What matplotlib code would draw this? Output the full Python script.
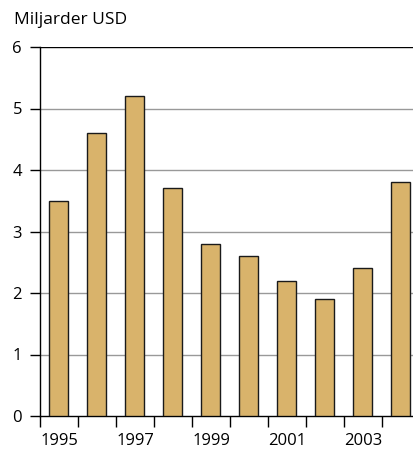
import matplotlib.pyplot as plt
import numpy as np

years = [1995, 1996, 1997, 1998, 1999, 2000, 2001, 2002, 2003, 2004]
values = [3.5, 4.6, 5.2, 3.7, 2.8, 2.6, 2.2, 1.9, 2.4, 3.8]
label_years = [1995, 1997, 1999, 2001, 2003]

plt.rcParams['font.family'] = ['Open Sans', 'DejaVu Sans']

fig = plt.figure(figsize=(4.14, 4.5), dpi=100)
ax = fig.add_axes([40 / 414, 34 / 450, 380 / 414, 369 / 450])

ax.bar(years, values, width=0.5, color='#d9b36b', edgecolor='#1a1a1a', linewidth=1, zorder=3)

ax.set_xlim(1994.5, 2004.5)
ax.set_ylim(0, 6)
ax.set_yticks(range(0, 7))
for y in range(1, 6):
    ax.axhline(y, color='#999999', linewidth=1, zorder=1)
ax.axhline(6, color='black', linewidth=1, zorder=1)

ax.set_xticks(label_years)
ax.tick_params(axis='x', length=0, labelsize=12, pad=12)
ax.set_xticks(np.arange(1994.5, 2005, 1), minor=True)
ax.tick_params(axis='x', which='minor', length=8, width=1, direction='out')
ax.tick_params(axis='y', length=7, width=1, labelsize=12, pad=6)

for s in ['top', 'right']:
    ax.spines[s].set_visible(False)
ax.spines['left'].set_linewidth(1)
ax.spines['bottom'].set_linewidth(1)

fig.text(14 / 414, 1 - 20 / 450, 'Miljarder USD', fontsize=12.5, va='center', ha='left')

fig.savefig('out.png', dpi=100)
